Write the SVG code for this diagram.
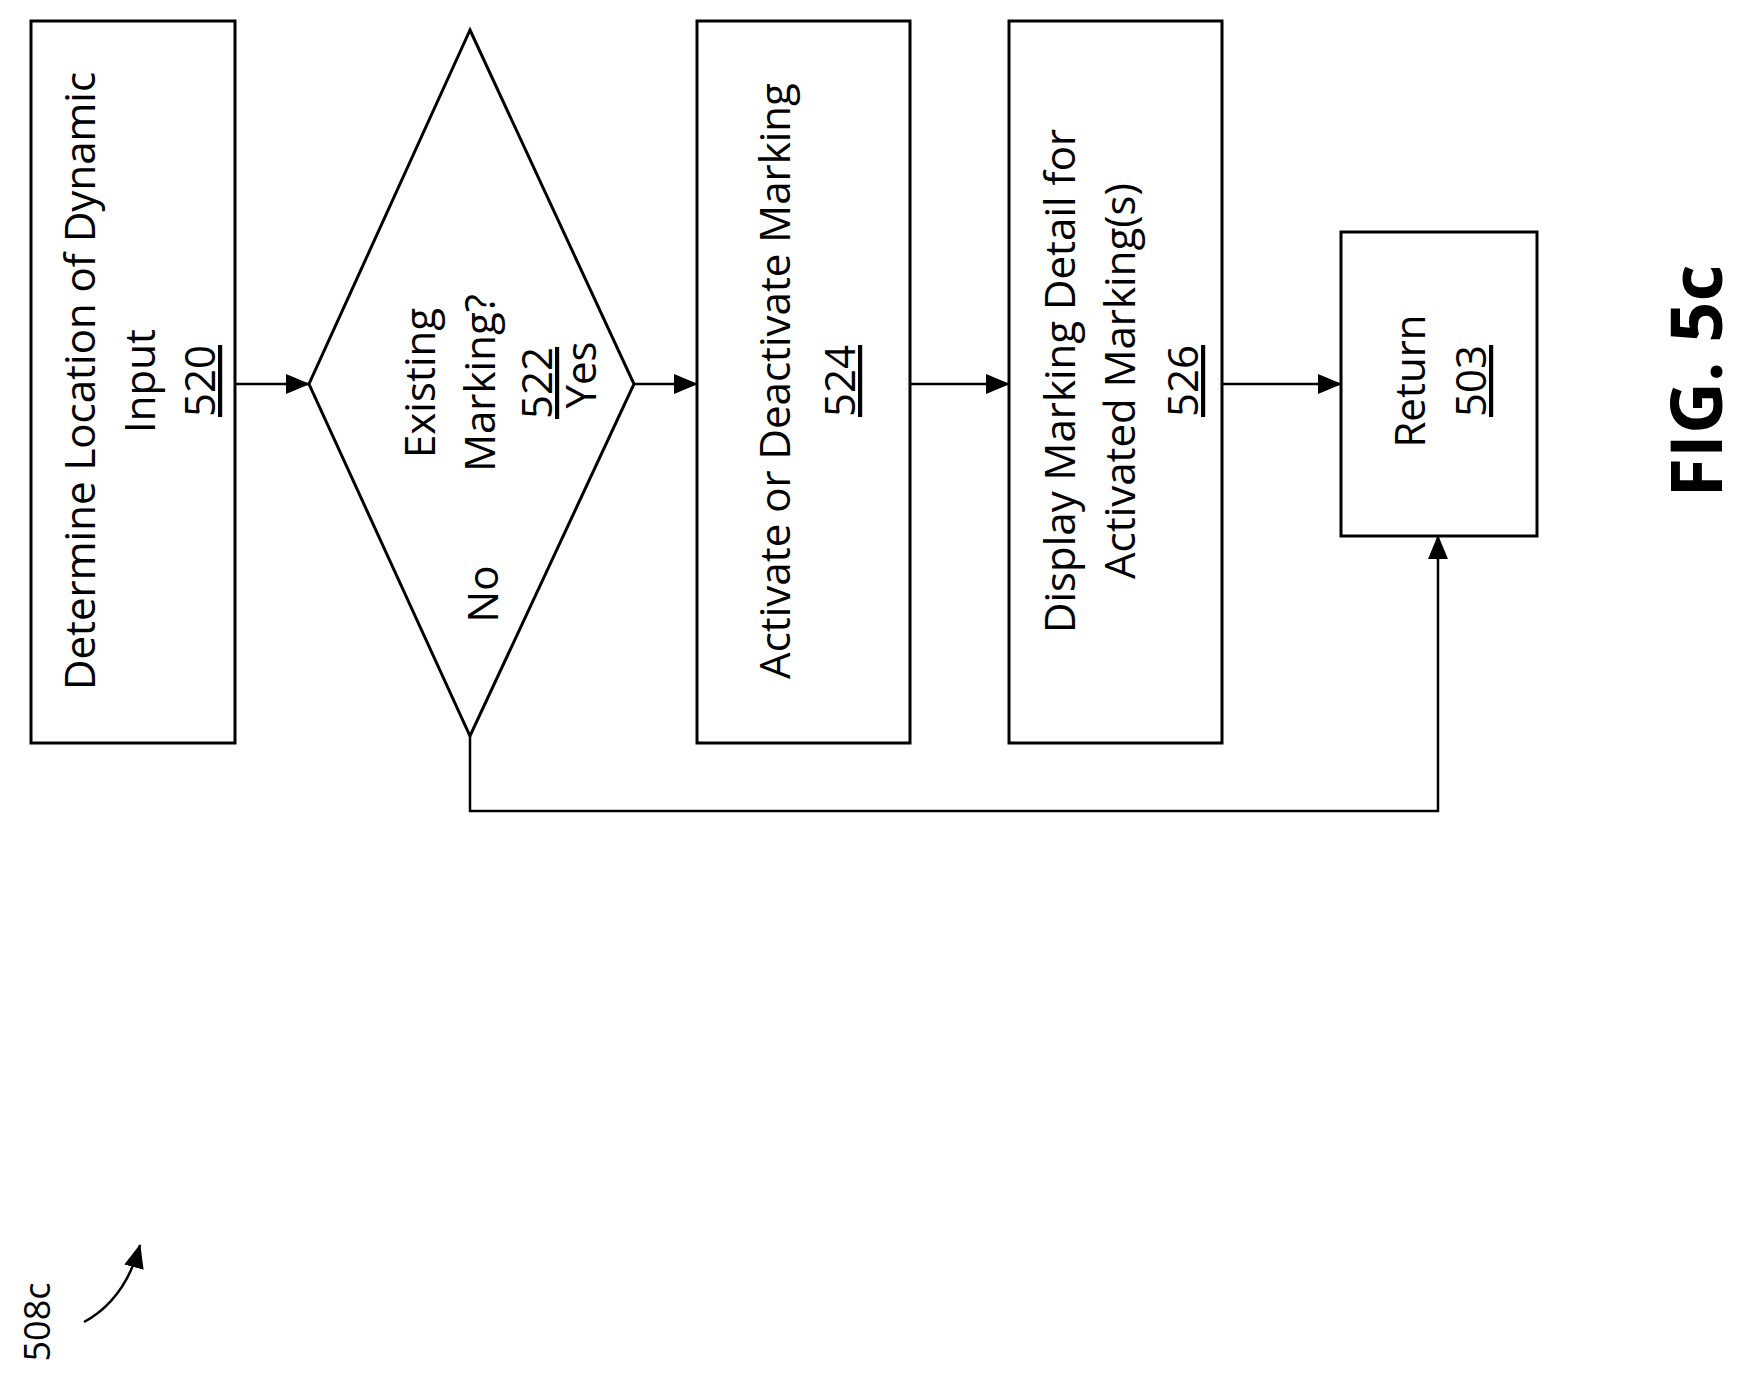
<svg xmlns="http://www.w3.org/2000/svg" width="1751" height="1385" viewBox="0 0 1751 1385">
<style>
.s{fill:#fff;stroke:#000;stroke-width:3}
.c{fill:none;stroke:#000;stroke-width:2.5}
text{font-family:"Open Sans","Liberation Sans",sans-serif;font-size:42px;text-anchor:middle;fill:#000}
.u{text-decoration:underline}
</style>
<defs>
<marker id="b" markerWidth="24" markerHeight="20" refX="23" refY="10" orient="auto" markerUnits="userSpaceOnUse"><path d="M0,0L24,10L0,20z"/></marker></defs>
<g id="connectors">
<line class="c" x1="235" y1="384" x2="309" y2="384" marker-end="url(#b)"/>
<line class="c" x1="634" y1="384" x2="697" y2="384" marker-end="url(#b)"/>
<line class="c" x1="910" y1="384" x2="1009" y2="384" marker-end="url(#b)"/>
<line class="c" x1="1222" y1="384" x2="1341" y2="384" marker-end="url(#b)"/>
<polyline class="c" points="470,736 470,811 1438,811 1438,536" marker-end="url(#b)"/>
<path class="c" d="M84,1322 Q125,1300 140,1245" marker-end="url(#b)"/>
</g>
<g id="n520"><rect class="s" x="31" y="21" width="204" height="722"/>
<text transform="translate(95,381) rotate(-90)">Determine Location of Dynamic</text>
<text transform="translate(155,381) rotate(-90)">Input</text>
<text class="u" transform="translate(215,381) rotate(-90)">520</text></g>
<g id="n522"><polygon class="s" points="470,30 634,384 470,736 309,384"/>
<text transform="translate(435,383) rotate(-90)">Existing</text>
<text transform="translate(495,383) rotate(-90)">Marking?</text>
<text class="u" transform="translate(552,383) rotate(-90)">522</text>
<text transform="translate(596,375) rotate(-90)">Yes</text>
<text transform="translate(498,594) rotate(-90)">No</text></g>
<g id="n524"><rect class="s" x="697" y="21" width="213" height="722"/>
<text transform="translate(790,381) rotate(-90)">Activate or Deactivate Marking</text>
<text class="u" transform="translate(855,381) rotate(-90)">524</text></g>
<g id="n526"><rect class="s" x="1009" y="21" width="213" height="722"/>
<text transform="translate(1075,381) rotate(-90)">Display Marking Detail for</text>
<text transform="translate(1135,381) rotate(-90)">Activated Marking(s)</text>
<text class="u" transform="translate(1198,381) rotate(-90)">526</text></g>
<g id="n503"><rect class="s" x="1341" y="232" width="196" height="304"/>
<text transform="translate(1425,381) rotate(-90)">Return</text>
<text class="u" transform="translate(1486,381) rotate(-90)">503</text></g>
<text transform="translate(1722,381) rotate(-90)" style="font-weight:bold;font-size:72px">FIG. 5c</text>
<text transform="translate(50,1322) rotate(-90)" style="font-size:36px">508c</text>
</svg>
